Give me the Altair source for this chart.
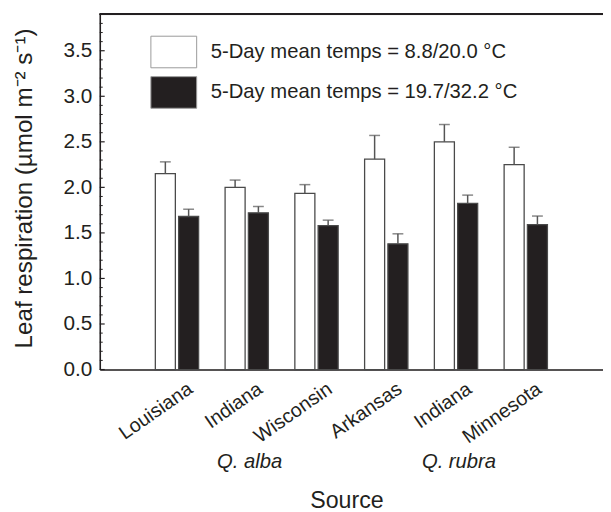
import altair as alt
import pandas as pd

# ---- data ----
species = ["alba", "alba", "alba", "rubra", "rubra", "rubra"]
sources = ["Louisiana", "Indiana", "Wisconsin", "Arkansas", "Indiana", "Minnesota"]
treatments = ["5-Day mean temps = 8.8/20.0 °C", "5-Day mean temps = 19.7/32.2 °C"]
cool_mean = [2.15, 2.00, 1.935, 2.31, 2.50, 2.25]
cool_err = [0.13, 0.08, 0.095, 0.26, 0.19, 0.19]
warm_mean = [1.68, 1.72, 1.58, 1.38, 1.825, 1.59]
warm_err = [0.08, 0.07, 0.06, 0.11, 0.09, 0.095]
species_labels = ["Q. alba", "Q. rubra"]
species_keys = ["alba|Indiana", "rubra|Indiana"]
major_ticks = [0.0, 0.5, 1.0, 1.5, 2.0, 2.5, 3.0, 3.5]
minor_ticks = [0.1, 0.2, 0.3, 0.4, 0.6, 0.7, 0.8, 0.9, 1.1, 1.2, 1.3, 1.4,
               1.6, 1.7, 1.8, 1.9, 2.1, 2.2, 2.3, 2.4, 2.6, 2.7, 2.8, 2.9,
               3.1, 3.2, 3.3, 3.4, 3.6, 3.7, 3.8]

keys = [f"{sp}|{src}" for sp, src in zip(species, sources)]
rows = []
for k, m, e in zip(keys, cool_mean, cool_err):
    rows.append({"key": k, "treat": treatments[0], "mean": m, "upper": m + e})
for k, m, e in zip(keys, warm_mean, warm_err):
    rows.append({"key": k, "treat": treatments[1], "mean": m, "upper": m + e})
df = pd.DataFrame(rows)
sp_df = pd.DataFrame({"key": species_keys, "label": species_labels})
major_df = pd.DataFrame({"v": major_ticks})
minor_df = pd.DataFrame({"v": minor_ticks})

W, H = 510, 360
FONT = "Liberation Sans"
INK = "#231f20"
YTITLE = "Leaf respiration (µmol m⁻² s⁻¹)"

yscale = alt.Scale(domain=[0, 3.9], nice=False, zero=True)
xscale = alt.Scale(domain=keys, paddingInner=0, paddingOuter=0.607)
offscale = alt.Scale(domain=treatments, paddingInner=0.14, paddingOuter=0.568)

y_axis = alt.Axis(
    title=YTITLE, values=major_ticks, format=".1f",
    ticks=False, tickSize=0, labelPadding=8, labelFontSize=21, labelFont=FONT,
    labelColor=INK, domainColor=INK, domainWidth=1.6, grid=False,
    titleFont=FONT, titleFontSize=24.5, titleFontWeight="normal", titleColor=INK,
    titleX=-69, titleY=176, titleBaseline="alphabetic", titleAlign="center",
)

x_axis = alt.Axis(
    title="Source", labelExpr="split(datum.label, '|')[1]",
    labelAngle=-35, labelAlign="right", labelBaseline="top",
    labelPadding=9, labelOffset=8, ticks=False, labelFontSize=20,
    labelColor=INK, labelFont=FONT, domainColor=INK, domainWidth=1.6,
    titleFont=FONT, titleFontSize=23.5, titleFontWeight="normal", titleColor=INK,
    titleX=250, titleY=140, titleBaseline="alphabetic", titleAlign="center",
    labelOverlap=False, grid=False,
)


def X():
    return alt.X("key:N", scale=xscale, sort=keys, axis=x_axis, title="Source")


def Y(field):
    return alt.Y(field, scale=yscale, axis=y_axis, title=YTITLE)


def XO():
    return alt.XOffset("treat:N", scale=offscale, sort=treatments)


bars = alt.Chart(df).mark_bar(stroke="#4a4a4a", strokeWidth=1.3).encode(
    x=X(), xOffset=XO(), y=Y("mean:Q"),
    color=alt.Color(
        "treat:N", sort=treatments,
        scale=alt.Scale(domain=treatments, range=["#ffffff", INK]),
        legend=alt.Legend(
            title=None, orient="none", legendX=58.5, legendY=21.7, padding=0,
            symbolType="M-1.45,-1H1.45V1H-1.45Z", symbolSize=1024,
            symbolStrokeColor="#999999", symbolStrokeWidth=1, symbolOpacity=1,
            labelFont=FONT, labelFontSize=20.5, labelColor=INK, labelOffset=21,
            rowPadding=4, labelLimit=400,
        ),
    ),
)

err = alt.Chart(df).mark_rule(color="#555555", strokeWidth=1.5).encode(
    x=X(), xOffset=XO(), y=Y("mean:Q"), y2="upper:Q",
)

caps = alt.Chart(df).mark_tick(color="#555555", thickness=1.5, size=11, orient="horizontal").encode(
    x=X(), xOffset=XO(), y=Y("upper:Q"),
)

major = alt.Chart(major_df).mark_rule(color=INK, strokeWidth=1.2).encode(
    y=Y("v:Q"), x=alt.value(0), x2=alt.value(5),
)
minor = alt.Chart(minor_df).mark_rule(color=INK, strokeWidth=1).encode(
    y=Y("v:Q"), x=alt.value(0), x2=alt.value(3),
)

top_spine = alt.Chart(major_df).mark_rule(color=INK, strokeWidth=1.6).encode(
    y=alt.value(0), x=alt.value(0), x2=alt.value(W),
)

sp_text = alt.Chart(sp_df).mark_text(
    font=FONT, fontSize=20.5, fontStyle="italic", color=INK, baseline="alphabetic", dx=3,
).encode(
    x=X(),
    y=alt.value(460),
    text="label:N",
)

chart = alt.layer(bars, err, caps, major, minor, top_spine, sp_text).properties(
    width=W, height=H,
    autosize=alt.AutoSizeParams(type="none"),
    padding={"left": 93, "top": 3, "right": 0, "bottom": 141},
).configure_view(stroke=None).configure(background="white")

chart.save("out.html", embed_options={"renderer": "svg", "actions": False})
